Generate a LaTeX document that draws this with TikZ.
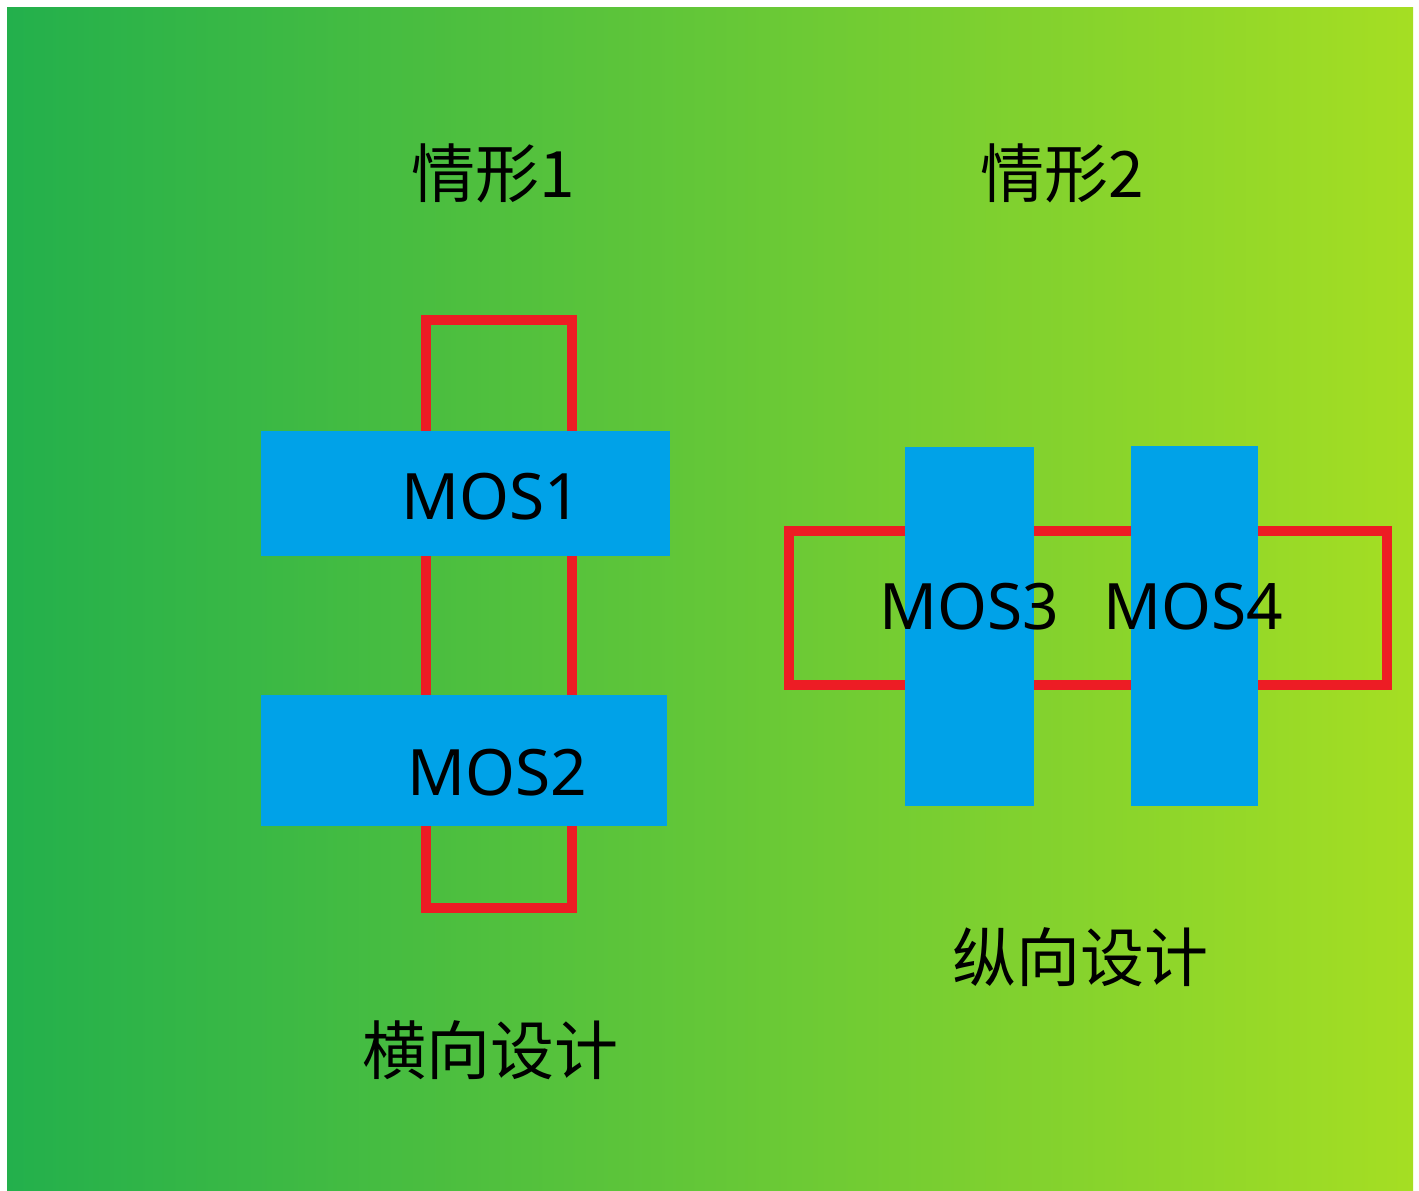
\documentclass[tikz,border=0pt]{standalone}
\usepackage{fontspec}
\setmainfont{Noto Sans}
\newfontfamily\cjk{Noto Sans CJK SC}
\definecolor{bgL}{RGB}{35,176,76}
\definecolor{bgR}{RGB}{165,222,35}
\definecolor{mosblue}{RGB}{0,162,232}
\definecolor{polyred}{RGB}{237,28,36}
\begin{document}
\begin{tikzpicture}[x=1pt,y=-1pt,
  poly/.style={draw=polyred,line width=10pt},
  mos/.style={fill=mosblue,draw=none},
  lbl/.style={font=\fontsize{64}{64}\selectfont,text=black,inner sep=0pt},
  title/.style={font=\cjk\fontsize{64}{64}\selectfont,text=black,inner sep=0pt}]
\useasboundingbox (0,0) rectangle (1419,1191);
\fill[white] (0,0) rectangle (1419,1191);
\shade[left color=bgL,right color=bgR] (7,7) rectangle (1413,1191);
% situation 1
\draw[poly] (425.5,319.5) rectangle (571.5,907.5);
\path[mos] (261,431) rectangle (670,556);
\path[mos] (261,695) rectangle (667,826);
\node[lbl] (m1) at (491,497) {MOS1};
\node[lbl] (m2) at (497,773) {MOS2};
% situation 2
\draw[poly] (789,530.5) rectangle (1386.5,684.5);
\path[mos] (905,447) rectangle (1034,806);
\path[mos] (1131,446) rectangle (1258,806);
\node[lbl] (m3) at (969,607) {MOS3};
\node[lbl] (m4) at (1193,607) {MOS4};
% titles
\node[title] (t1) at (493,173) {情形1};
\node[title] (t2) at (1062,173) {情形2};
\node[title] (d1) at (490,1050) {横向设计};
\node[title] (d2) at (1080,957) {纵向设计};
\end{tikzpicture}
\end{document}
